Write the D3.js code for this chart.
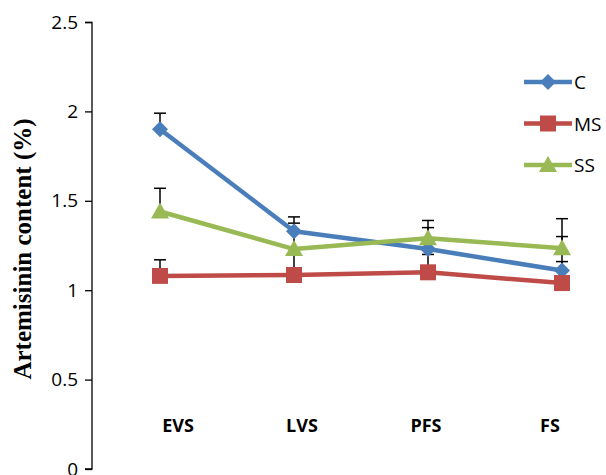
<!DOCTYPE html>
<html>
<head>
<meta charset="utf-8">
<script src="https://cdn.jsdelivr.net/npm/d3@7"></script>
<style>
  body { margin: 0; background: #fff; }
  svg { display: block; }
</style>
</head>
<body>
<svg id="chart" width="606" height="475"></svg>
<script>
const categories = ['EVS', 'LVS', 'PFS', 'FS'];
const seriesNames = ['C', 'MS', 'SS'];
const cValues = [1.90, 1.33, 1.23, 1.11];
const msValues = [1.08, 1.085, 1.10, 1.04];
const ssValues = [1.44, 1.23, 1.29, 1.235];
const cErrors = [0.09, 0.08, 0.12, 0.19];
const msErrors = [0.09, 0.13, 0.10, 0.12];
const ssErrors = [0.13, 0.145, 0.10, 0.165];
const yTicks = [0, 0.5, 1, 1.5, 2, 2.5];

const series = [
  { name: seriesNames[0], values: cValues, errors: cErrors, color: '#4a7ebb', symbol: 'diamond' },
  { name: seriesNames[1], values: msValues, errors: msErrors, color: '#be4b48', symbol: 'square' },
  { name: seriesNames[2], values: ssValues, errors: ssErrors, color: '#98b954', symbol: 'triangle' }
];

const svg = d3.select('#chart');
const fontSans = '"Open Sans", Lato, sans-serif';

const x = d3.scalePoint().domain(categories).range([160, 562]);
const xLabel = d3.scalePoint().domain(categories).range([178, 550]);
const y = d3.scaleLinear().domain([0, 2.5]).range([469, 22]);

// y axis
const yAxis = svg.append('g')
  .attr('transform', 'translate(92,0)')
  .call(d3.axisLeft(y).tickValues(yTicks).tickFormat(d3.format('')).tickSize(7).tickPadding(7));
yAxis.select('.domain').attr('stroke', '#000').attr('stroke-width', 1.3).attr('d', 'M-7,22.5H0V469H-7');
yAxis.selectAll('.tick line').attr('stroke', '#000').attr('stroke-width', 1.3);
yAxis.selectAll('.tick text')
  .attr('font-family', fontSans)
  .attr('font-size', 19)
  .attr('fill', '#000');

svg.append('text')
  .attr('transform', 'translate(31,249) rotate(-90)')
  .attr('text-anchor', 'middle')
  .attr('font-family', '"Liberation Serif", "Times New Roman", serif')
  .attr('font-weight', 'bold')
  .attr('font-size', 25)
  .text('Artemisinin content (%)');

// category labels
svg.append('g').selectAll('text')
  .data(categories)
  .join('text')
  .attr('x', d => xLabel(d))
  .attr('y', 432)
  .attr('text-anchor', 'middle')
  .attr('font-family', fontSans)
  .attr('font-weight', 'bold')
  .attr('font-size', 18)
  .text(d => d);

// error bars
const errG = svg.append('g').attr('stroke', '#000').attr('stroke-width', 1.5);
series.forEach(s => {
  s.values.forEach((v, i) => {
    const cx = x(categories[i]);
    const top = y(v + s.errors[i]);
    errG.append('line').attr('x1', cx).attr('x2', cx).attr('y1', y(v)).attr('y2', top);
    errG.append('line').attr('x1', cx - 6).attr('x2', cx + 6).attr('y1', top).attr('y2', top);
  });
});

// markers: Excel-style diamond is a rotated square
function markerPath(kind) {
  if (kind === 'diamond') return 'M0,-8L8,0L0,8L-8,0Z';
  if (kind === 'square') return 'M-8,-8H8V8H-8Z';
  return 'M0,-9L9,7H-9Z';
}

const line = d3.line()
  .x((d, i) => x(categories[i]))
  .y(d => y(d));

series.forEach(s => {
  svg.append('path')
    .datum(s.values)
    .attr('fill', 'none')
    .attr('stroke', s.color)
    .attr('stroke-width', 4.5)
    .attr('stroke-linejoin', 'round')
    .attr('d', line);
});

series.forEach(s => {
  svg.append('g').selectAll('path')
    .data(s.values)
    .join('path')
    .attr('transform', (d, i) => `translate(${x(categories[i])},${y(d)})`)
    .attr('d', markerPath(s.symbol))
    .attr('fill', s.color);
});

// legend
const legend = svg.append('g');
series.forEach((s, i) => {
  const ly = 82 + i * 41.5;
  legend.append('line')
    .attr('x1', 524).attr('x2', 572)
    .attr('y1', ly).attr('y2', ly)
    .attr('stroke', s.color).attr('stroke-width', 4.5);
  legend.append('path')
    .attr('transform', `translate(548,${ly})`)
    .attr('d', markerPath(s.symbol))
    .attr('fill', s.color);
  legend.append('text')
    .attr('x', 574)
    .attr('y', ly + 7)
    .attr('font-family', fontSans)
    .attr('font-size', 19)
    .text(s.name);
});
</script>
</body>
</html>
